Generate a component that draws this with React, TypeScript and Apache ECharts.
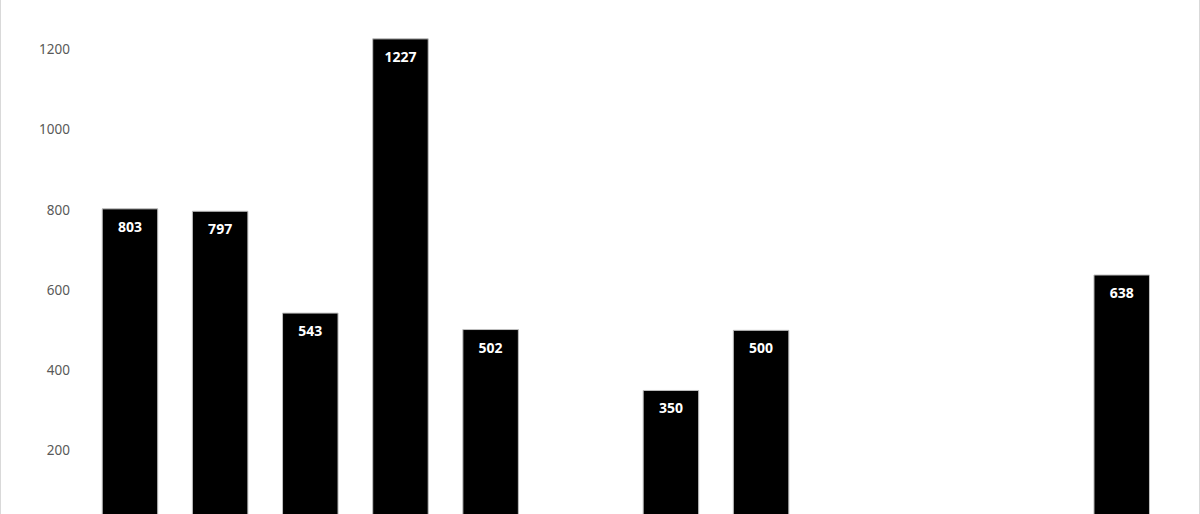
import React, { useEffect, useRef } from "react";
import * as echarts from "echarts";

const categories = ["1", "2", "3", "4", "5", "6", "7", "8", "9", "10", "11", "12"];
const values: (number | null)[] = [803, 797, 543, 1227, 502, null, 350, 500, null, null, null, 638];
const yTicks = [0, 200, 400, 600, 800, 1000, 1200, 1400];

const CHART_TOP = -40;
const CHART_H = 620;

export default function App() {
  const ref = useRef<HTMLDivElement>(null);
  useEffect(() => {
    if (!ref.current) return;
    const chart = echarts.init(ref.current, undefined, { renderer: "svg" });
    chart.setOption({
      animation: false,
      backgroundColor: "#ffffff",
      grid: { left: 84.9, right: 33.2, top: 9, bottom: CHART_H - 570.3, containLabel: false },
      graphic: [
        {
          type: "rect",
          shape: { x: 0.5, y: 0.5, width: 1199, height: CHART_H - 1 },
          style: { fill: "none", stroke: "#d9d9d9", lineWidth: 1 },
          silent: true,
        },
      ],
      xAxis: {
        type: "category",
        data: categories,
        axisLine: { show: true, lineStyle: { color: "#d9d9d9" } },
        axisTick: { show: false },
        axisLabel: { show: false },
      },
      yAxis: {
        type: "value",
        min: yTicks[0],
        max: yTicks[yTicks.length - 1],
        interval: 200,
        axisLine: { show: false },
        axisTick: { show: false },
        splitLine: { show: false },
        axisLabel: {
          color: "#595959",
          fontFamily: "Noto Sans",
          fontSize: 13.5,
          margin: 15,
          showMinLabel: false,
          showMaxLabel: false,
          formatter: (v: number) => String(v),
        },
      },
      series: [
        {
          type: "bar",
          data: values,
          barWidth: 56.5,
          itemStyle: { color: "#000000", borderColor: "#bfbfbf", borderWidth: 1 },
          label: {
            show: true,
            position: "insideTop",
            distance: 11,
            color: "#ffffff",
            fontWeight: "bold",
            fontFamily: "Noto Sans",
            fontSize: 14,
          },
        },
      ],
    });
    return () => chart.dispose();
  }, []);
  return (
    <div style={{ position: "fixed", left: 0, top: 0, width: 1200, height: 514, overflow: "hidden", background: "#fff" }}>
      <div ref={ref} style={{ position: "absolute", left: 0, top: CHART_TOP, width: 1200, height: CHART_H }} />
    </div>
  );
}
